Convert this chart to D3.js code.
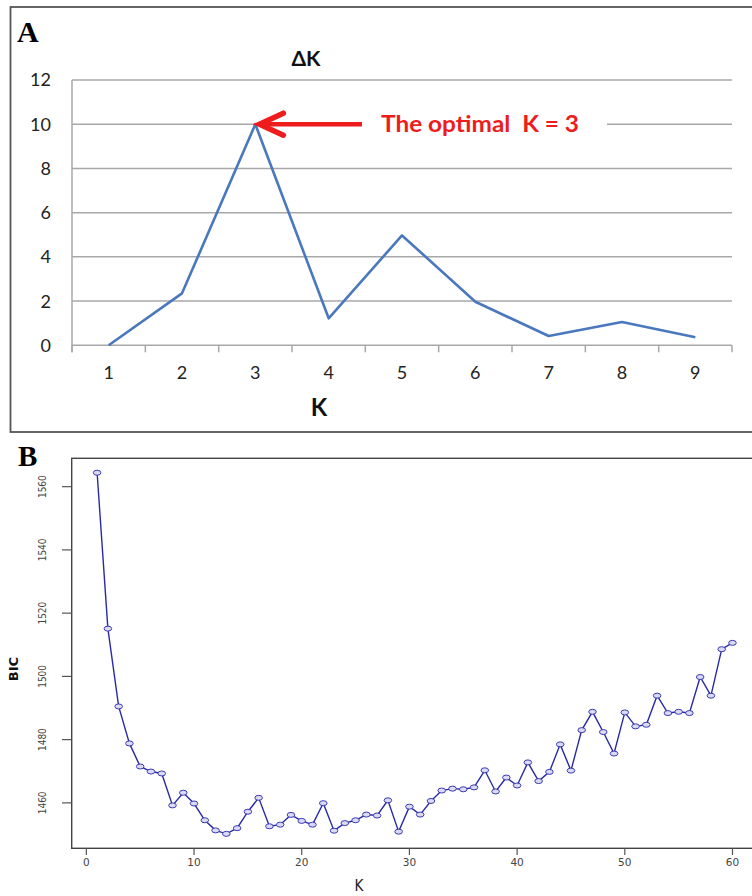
<!DOCTYPE html>
<html>
<head>
<meta charset="utf-8">
<script src="https://cdn.jsdelivr.net/npm/d3@7"></script>
<style>
  body { margin: 0; background: #fff; }
  svg { display: block; }
</style>
</head>
<body>
<svg id="chart" width="752" height="896"></svg>
<script>
// panel A: delta K per K (Evanno)
const kA = [1, 2, 3, 4, 5, 6, 7, 8, 9];
const deltaK = [0, 2.35, 10, 1.22, 4.97, 1.97, 0.42, 1.05, 0.36];
const yTicksA = [0, 2, 4, 6, 8, 10, 12];
const optimalK = 3;

// panel B: BIC per K
const kB = [1, 2, 3, 4, 5, 6, 7, 8, 9, 10, 11, 12, 13, 14, 15, 16, 17, 18, 19, 20,
    21, 22, 23, 24, 25, 26, 27, 28, 29, 30, 31, 32, 33, 34, 35, 36, 37, 38, 39, 40,
    41, 42, 43, 44, 45, 46, 47, 48, 49, 50, 51, 52, 53, 54, 55, 56, 57, 58, 59, 60];
const bic = [1564.4, 1515.1, 1490.5, 1478.8, 1471.5, 1469.9, 1469.3, 1459.2, 1463.2, 1459.8,
    1454.5, 1451.3, 1450.2, 1452.0, 1457.2, 1461.6, 1452.6, 1453.1, 1456.2, 1454.3,
    1453.1, 1459.9, 1451.2, 1453.6, 1454.5, 1456.3, 1456.0, 1460.8, 1450.9, 1458.8,
    1456.3, 1460.6, 1463.9, 1464.5, 1464.3, 1464.9, 1470.3, 1463.6, 1468.0, 1465.5,
    1472.8, 1466.9, 1469.8, 1478.5, 1470.2, 1483.0, 1488.8, 1482.4, 1475.6, 1488.6,
    1484.2, 1484.7, 1493.9, 1488.4, 1488.8, 1488.4, 1499.8, 1493.9, 1508.6, 1510.6];
const xTicksB = [0, 10, 20, 30, 40, 50, 60];
const yTicksB = [1460, 1480, 1500, 1520, 1540, 1560];

const svg = d3.select("#chart");
svg.append("rect").attr("width", 752).attr("height", 896).attr("fill", "#fff");

// ---------- Panel A ----------
const fontA = "Lato, 'Open Sans', sans-serif";
const gA = svg.append("g");

gA.append("rect")
    .attr("x", 10.5).attr("y", 7).attr("width", 760).attr("height", 425)
    .attr("fill", "none").attr("stroke", "#555").attr("stroke-width", 1.8);

const xA = d3.scaleBand().domain(kA).range([72, 732]);
const yA = d3.scaleLinear().domain([0, 12]).range([345.3, 80]);

// gridlines
gA.append("g").selectAll("line")
    .data(yTicksA)
    .join("line")
    .attr("x1", 72).attr("x2", 732)
    .attr("y1", d => yA(d)).attr("y2", d => yA(d))
    .attr("stroke", "#a8a8a8").attr("stroke-width", 1.5);

// y axis line
gA.append("line")
    .attr("x1", 72).attr("x2", 72).attr("y1", yA(12)).attr("y2", yA(0) + 7)
    .attr("stroke", "#a8a8a8").attr("stroke-width", 1.5);

// x ticks at category boundaries
const bounds = kA.map(k => xA(k)).concat([xA.range()[1]]);
gA.append("g").selectAll("line")
    .data(bounds)
    .join("line")
    .attr("x1", d => d).attr("x2", d => d)
    .attr("y1", yA(0)).attr("y2", yA(0) + 7)
    .attr("stroke", "#a8a8a8").attr("stroke-width", 1.5);

gA.append("g").selectAll("text")
    .data(yTicksA)
    .join("text")
    .attr("x", 51).attr("y", d => yA(d))
    .attr("dy", "0.36em")
    .attr("text-anchor", "end")
    .attr("font-family", fontA).attr("font-size", 18).attr("fill", "#222")
    .text(d => d);

gA.append("g").selectAll("text")
    .data(kA)
    .join("text")
    .attr("x", d => xA(d) + xA.bandwidth() / 2).attr("y", 373)
    .attr("dy", "0.36em")
    .attr("text-anchor", "middle")
    .attr("font-family", fontA).attr("font-size", 18).attr("fill", "#222")
    .text(d => d);

// line
const lineA = d3.line()
    .x((d, i) => xA(kA[i]) + xA.bandwidth() / 2)
    .y(d => yA(d));
gA.append("path")
    .datum(deltaK)
    .attr("d", lineA)
    .attr("fill", "none").attr("stroke", "#4a78be").attr("stroke-width", 2.6)
    .attr("stroke-linejoin", "round");

// titles
gA.append("text")
    .attr("x", 306).attr("y", 58).attr("dy", "0.36em")
    .attr("text-anchor", "middle")
    .attr("font-family", fontA).attr("font-weight", "bold").attr("font-size", 21)
    .attr("fill", "#111")
    .text("ΔK");

gA.append("text")
    .attr("x", 319).attr("y", 407).attr("dy", "0.36em")
    .attr("text-anchor", "middle")
    .attr("font-family", fontA).attr("font-weight", "bold").attr("font-size", 24)
    .attr("fill", "#111")
    .text("K");

gA.append("text")
    .attr("x", 17).attr("y", 42)
    .attr("font-family", "'Liberation Serif', serif").attr("font-weight", "bold")
    .attr("font-size", 30).attr("fill", "#000")
    .text("A");

// annotation: arrow + label
const peakX = xA(optimalK) + xA.bandwidth() / 2;
const peakY = yA(deltaK[kA.indexOf(optimalK)]);
gA.append("rect")
    .attr("x", 362).attr("y", peakY - 14).attr("width", 245).attr("height", 28)
    .attr("fill", "#fff");
const red = "#ee1c1c";
gA.append("line")
    .attr("x1", 362).attr("x2", peakX + 8).attr("y1", peakY).attr("y2", peakY)
    .attr("stroke", red).attr("stroke-width", 4.5);
gA.append("path")
    .attr("d", `M${peakX + 28},${peakY - 11} L${peakX + 4},${peakY} L${peakX + 28},${peakY + 11}`)
    .attr("fill", "none").attr("stroke", red).attr("stroke-width", 5.5)
    .attr("stroke-linejoin", "miter").attr("stroke-linecap", "round");
gA.append("text")
    .attr("x", 381).attr("y", peakY).attr("dy", "0.36em")
    .attr("font-family", fontA).attr("font-weight", "bold").attr("font-size", 22)
    .attr("fill", red)
    .attr("xml:space", "preserve")
    .attr("textLength", 198).attr("lengthAdjust", "spacingAndGlyphs")
    .text("The optimal  K = 3");

// ---------- Panel B ----------
const gB = svg.append("g");
const fontB = "'DejaVu Sans', sans-serif";

const padX = (kB[kB.length - 1] - kB[0]) * 0.04;
const [bMin, bMax] = d3.extent(bic);
const padY = (bMax - bMin) * 0.04;
const xB = d3.scaleLinear().domain([kB[0] - padX, kB[kB.length - 1] + padX]).range([71.7, 757.9]);
const yB = d3.scaleLinear().domain([bMin - padY, bMax + padY]).range([848.3, 458.3]);

gB.append("rect")
    .attr("x", 71.7).attr("y", 458.3).attr("width", 757.9 - 71.7).attr("height", 848.3 - 458.3)
    .attr("fill", "none").attr("stroke", "#444").attr("stroke-width", 1.4);

gB.append("g").selectAll("line")
    .data(xTicksB)
    .join("line")
    .attr("x1", d => xB(d)).attr("x2", d => xB(d))
    .attr("y1", 848.3).attr("y2", 855)
    .attr("stroke", "#555").attr("stroke-width", 1.2);

gB.append("g").selectAll("text")
    .data(xTicksB)
    .join("text")
    .attr("x", d => xB(d)).attr("y", 862).attr("dy", "0.36em")
    .attr("text-anchor", "middle")
    .attr("font-family", fontB).attr("font-size", 10.5).attr("fill", "#444")
    .text(d => d);

gB.append("g").selectAll("line")
    .data(yTicksB)
    .join("line")
    .attr("x1", 62).attr("x2", 71.7)
    .attr("y1", d => yB(d)).attr("y2", d => yB(d))
    .attr("stroke", "#555").attr("stroke-width", 1.2);

gB.append("g").selectAll("text")
    .data(yTicksB)
    .join("text")
    .attr("transform", d => `translate(42,${yB(d)}) rotate(-90)`)
    .attr("dy", "0.36em")
    .attr("text-anchor", "middle")
    .attr("font-family", fontB).attr("font-stretch", "condensed")
    .attr("font-size", 10).attr("fill", "#444")
    .text(d => d);

gB.append("text")
    .attr("transform", "translate(13,669) rotate(-90)")
    .attr("dy", "0.36em")
    .attr("text-anchor", "middle")
    .attr("font-family", fontB).attr("font-weight", "bold").attr("font-size", 13)
    .attr("fill", "#111")
    .text("BIC");

gB.append("text")
    .attr("x", 359).attr("y", 886).attr("dy", "0.36em")
    .attr("text-anchor", "middle")
    .attr("font-family", fontB).attr("font-stretch", "condensed")
    .attr("font-size", 15).attr("fill", "#222")
    .text("K");

gB.append("text")
    .attr("x", 18).attr("y", 466)
    .attr("font-family", "'Liberation Serif', serif").attr("font-weight", "bold")
    .attr("font-size", 29).attr("fill", "#000")
    .text("B");

const lineB = d3.line()
    .x((d, i) => xB(kB[i]))
    .y(d => yB(d));
gB.append("path")
    .datum(bic)
    .attr("d", lineB)
    .attr("fill", "none").attr("stroke", "#2a2aa6").attr("stroke-width", 1.4);

gB.append("g").selectAll("ellipse")
    .data(bic)
    .join("ellipse")
    .attr("cx", (d, i) => xB(kB[i])).attr("cy", d => yB(d))
    .attr("rx", 3.8).attr("ry", 2.5)
    .attr("fill", "#dadaf5").attr("stroke", "#3a3ab2").attr("stroke-width", 1);
</script>
</body>
</html>
